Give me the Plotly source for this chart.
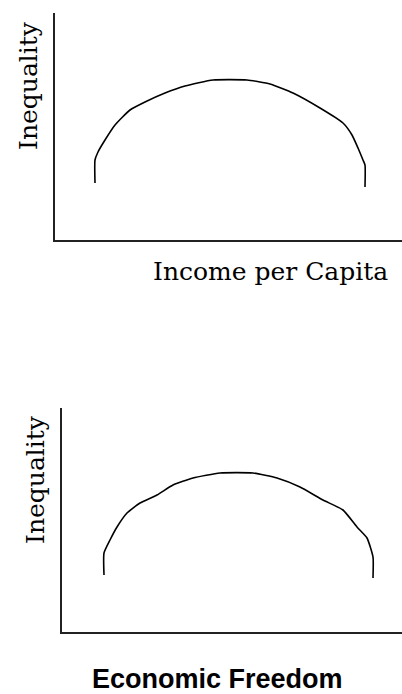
# Two sketch graphs: inequality against income per capita and against economic freedom

import plotly.graph_objects as go

# Top graph (origin at the corner of the axes)
income_x = [40, 40, 43, 50, 60, 75, 90, 110, 130, 158, 192, 215, 238, 265, 288, 297, 303, 308, 310, 310]
income_y = [57, 80, 88, 100, 115, 130, 138, 147, 154, 160, 160, 156, 147, 132, 117, 105, 92, 80, 75, 53]

# Bottom graph
freedom_x = [42, 42, 48, 55, 65, 78, 95, 111, 131, 158, 191, 215, 238, 261, 281, 295, 305, 311, 311]
freedom_y = [57, 79, 92, 105, 119, 129, 137, 147, 154, 159, 159, 154, 145, 132, 122, 105, 94, 75, 54]

y_title = "Inequality"
top_x_title = "Income per Capita"
bottom_x_title = "Economic Freedom"

W, H = 402, 694


def px_x(p):
    return p / W


def px_y(p):
    return 1 - p / H


fig = go.Figure()
fig.add_trace(go.Scatter(x=income_x, y=income_y, mode="lines",
                         line=dict(color="black", width=1.6, shape="spline", smoothing=0.5),
                         xaxis="x", yaxis="y"))
fig.add_trace(go.Scatter(x=freedom_x, y=freedom_y, mode="lines",
                         line=dict(color="black", width=1.6, shape="spline", smoothing=0.5),
                         xaxis="x2", yaxis="y2"))

axis_style = dict(showline=True, linecolor="#222", linewidth=2, showgrid=False,
                  zeroline=False, showticklabels=False, ticks="", fixedrange=True)

fig.update_layout(
    width=W, height=H,
    margin=dict(l=0, r=0, t=0, b=0),
    paper_bgcolor="white", plot_bgcolor="white",
    showlegend=False,
    xaxis=dict(domain=[px_x(55), 1], range=[0, 347], anchor="y", **axis_style),
    yaxis=dict(domain=[px_y(240), px_y(13)], range=[0, 227], anchor="x", **axis_style),
    xaxis2=dict(domain=[px_x(62), 1], range=[0, 340], anchor="y2", **axis_style),
    yaxis2=dict(domain=[px_y(632), px_y(408)], range=[0, 224], anchor="x2", **axis_style),
)

serif = dict(family="DejaVu Serif", size=25, color="black")
label = dict(xref="paper", yref="paper", showarrow=False, xanchor="center", yanchor="middle")

fig.add_annotation(text=top_x_title, x=px_x(270), y=px_y(271), font=serif, **label)
fig.add_annotation(text=y_title, textangle=-90, x=px_x(29), y=px_y(86), font=serif, **label)
fig.add_annotation(text=y_title, textangle=-90, x=px_x(35), y=px_y(480), font=serif, **label)
fig.add_annotation(text="<b>" + bottom_x_title + "</b>", x=px_x(217), y=px_y(679),
                   font=dict(family="Liberation Sans", size=27, color="black"), **label)

# drop the default page margin so the figure fills the window
fig.write_html("out.html", config={"displayModeBar": False},
               post_script="document.body.style.margin='0';document.body.style.overflow='hidden';")
